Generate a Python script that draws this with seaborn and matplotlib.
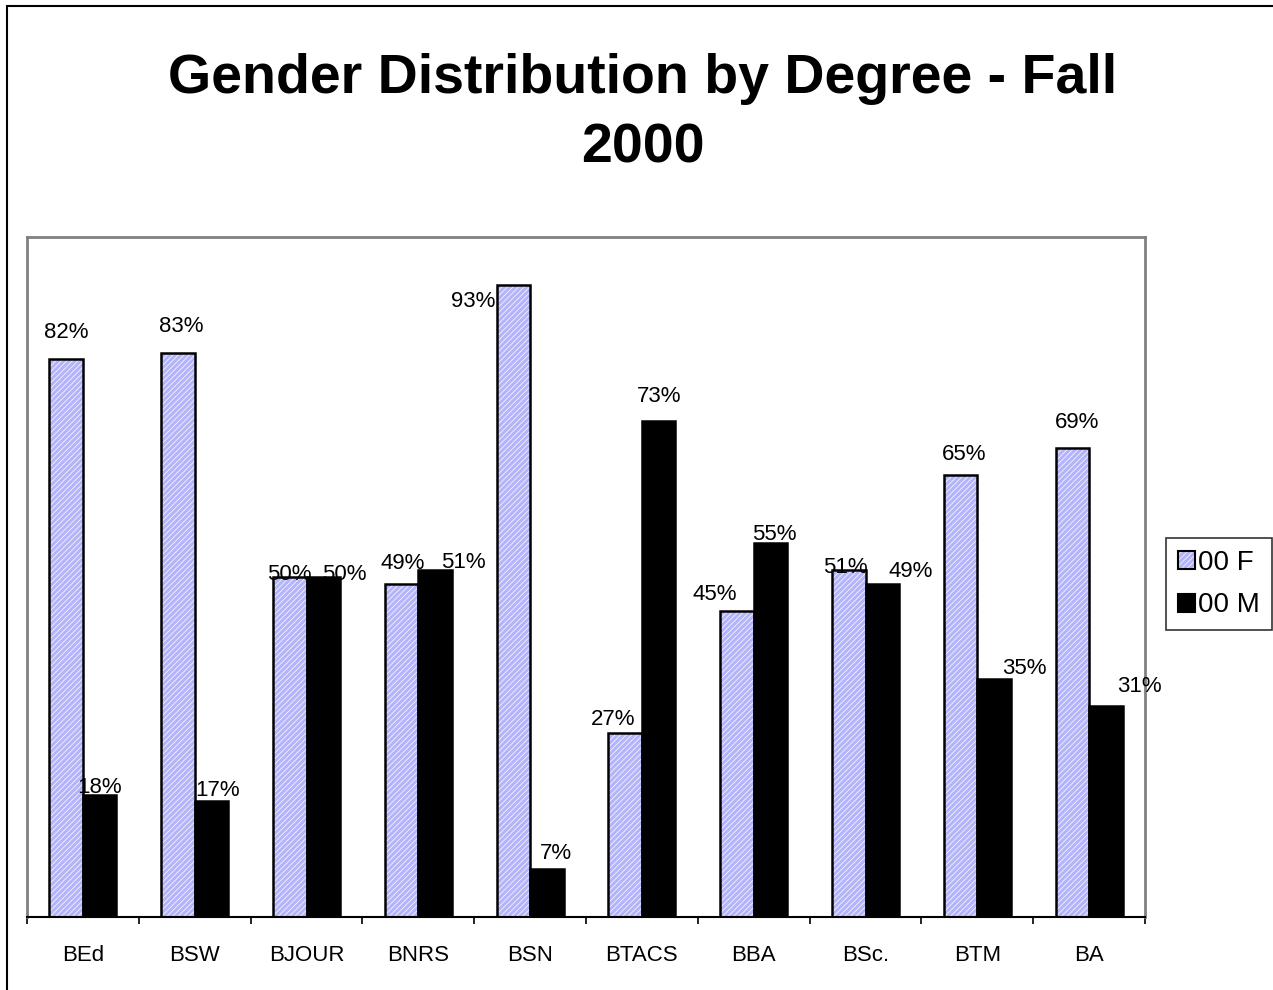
import matplotlib
matplotlib.use("Agg")
import matplotlib.pyplot as plt
from matplotlib.patches import Rectangle, Patch
import seaborn as sns
import pandas as pd

# Data
degrees = ["BEd", "BSW", "BJOUR", "BNRS", "BSN", "BTACS", "BBA", "BSc.", "BTM", "BA"]
female_pct = [82, 83, 50, 49, 93, 27, 45, 51, 65, 69]
male_pct = [18, 17, 50, 51, 7, 73, 55, 49, 35, 31]
series_names = ["00 F", "00 M"]

# Label nudges (pixels) relative to the top-centre of each bar
female_nudge = [(0, 27), (3, 26), (0, 3), (1, 20), (-40, -17),
                (-12, 14), (-22, 16), (-3, 3), (4, 20), (5, 25)]
male_nudge = [(0, 7), (6, 11), (21, 3), (28, 8), (9, 16),
              (0, 24), (4, 9), (28, 12), (30, 11), (34, 20)]

df = pd.DataFrame({
    "degree": degrees * 2,
    "pct": female_pct + male_pct,
    "series": [series_names[0]] * len(degrees) + [series_names[1]] * len(degrees),
})

sns.set_theme(style="white")
plt.rcParams["font.family"] = ["Liberation Sans", "DejaVu Sans"]
plt.rcParams["text.color"] = "black"
plt.rcParams["xtick.color"] = "black"
plt.rcParams["xtick.labelcolor"] = "black"
plt.rcParams["hatch.linewidth"] = 0.5

W, H = 1273, 990
fig = plt.figure(figsize=(W / 100, H / 100), dpi=100)
fig.patch.set_facecolor("white")
ax = fig.add_axes([27 / W, 1 - 917 / H, (1145 - 27) / W, (917 - 237) / H])

lavender = "#b4b4fa"
sns.barplot(data=df, x="degree", y="pct", hue="series", order=degrees,
            hue_order=series_names, palette=[lavender, "black"], width=0.6,
            saturation=1, edgecolor="black", linewidth=1.8, legend=False, ax=ax)

# Hatched fill for the female bars: white diagonal lines under a black outline
hatch = "//////"
for bar in ax.containers[0]:
    x, y = bar.get_xy()
    w, h = bar.get_width(), bar.get_height()
    bar.set_edgecolor("white")
    bar.set_linewidth(0)
    bar.set_hatch(hatch)
    ax.add_patch(Rectangle((x, y), w, h, fill=False, edgecolor="black",
                           linewidth=1.8, zorder=bar.get_zorder() + 0.1))

# Value labels
for container, vals, nudges in ((ax.containers[0], female_pct, female_nudge),
                                (ax.containers[1], male_pct, male_nudge)):
    for bar, v, (dx, dy) in zip(container, vals, nudges):
        cx = bar.get_x() + bar.get_width() / 2
        ax.annotate(f"{v}%", (cx, v), xytext=(dx, dy), textcoords="offset pixels",
                    ha="center", va="center", fontsize=16, color="black",
                    zorder=5)

ax.set_ylim(0, 100)
ax.set_xlim(-0.5, len(degrees) - 0.5)
ax.set_yticks([])
ax.set_xlabel("")
ax.set_ylabel("")

# Category labels centred, tick marks on category boundaries
ax.set_xticks(range(len(degrees)))
ax.set_xticklabels(degrees, fontsize=16, color="black")
ax.tick_params(axis="x", which="major", length=0, pad=20)
ax.set_xticks([i - 0.5 for i in range(len(degrees) + 1)], minor=True)
ax.tick_params(axis="x", which="minor", length=5, width=1.2, color="black",
               direction="out", bottom=True)

for side in ("top", "right", "left"):
    ax.spines[side].set_color("#808080")
    ax.spines[side].set_linewidth(2)
ax.spines["bottom"].set_color("black")
ax.spines["bottom"].set_linewidth(1.5)

# Legend
f_handle = (Patch(facecolor=lavender, edgecolor="white", hatch=hatch, linewidth=0),
            Patch(facecolor="none", edgecolor="black", linewidth=1.5))
m_handle = Patch(facecolor="black", edgecolor="black", linewidth=1.5)
leg = fig.legend([f_handle, m_handle], series_names, loc="upper left",
                 bbox_to_anchor=(1166 / W, 1 - 538 / H), fontsize=20,
                 frameon=True, fancybox=False, handlelength=0.62,
                 handleheight=0.62, handletextpad=0.12, labelspacing=0.6,
                 borderpad=0.42, borderaxespad=0)
leg.get_frame().set_edgecolor("black")
leg.get_frame().set_linewidth(1.2)
for t in leg.get_texts():
    t.set_color("black")

# Title
fig.text(643 / W, 1 - 114 / H, "Gender Distribution by Degree - Fall\n2000",
         ha="center", va="center", fontsize=40, fontweight="bold",
         color="black", linespacing=1.43)

# Outer border of the chart area
fig.patches.append(Rectangle((7 / W, -0.1), 2, 1.1 - 6 / H, transform=fig.transFigure,
                             fill=False, edgecolor="black", linewidth=1.5,
                             clip_on=False))

fig.savefig("out.png", dpi=100, facecolor="white")
